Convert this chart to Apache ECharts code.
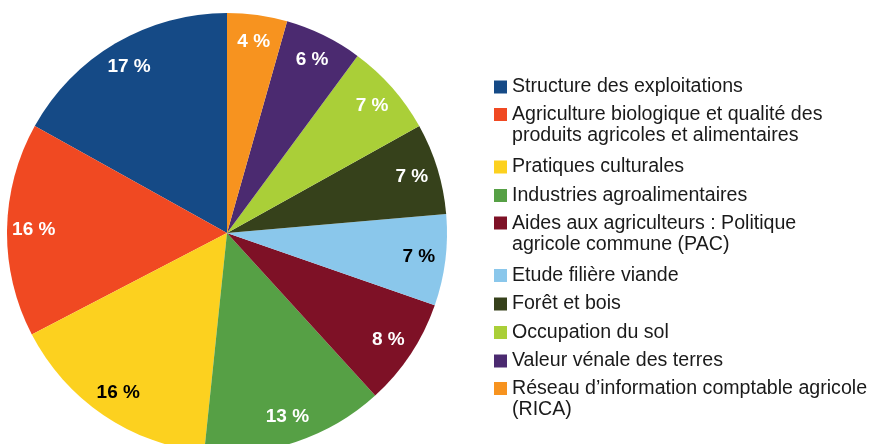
<!DOCTYPE html>
<html>
<head>
<meta charset="utf-8">
<script src="https://cdn.jsdelivr.net/npm/echarts@6/dist/echarts.min.js"></script>
<style>
  html, body { margin: 0; padding: 0; background: #fff; }
  #chart { width: 871px; height: 444px; }
</style>
</head>
<body>
<div id="chart"></div>
<script>
// shares, in legend order (slices run anticlockwise from 12 o'clock)
const themes = [
  'Structure des exploitations',
  'Agriculture biologique et qualité des produits agricoles et alimentaires',
  'Pratiques culturales',
  'Industries agroalimentaires',
  'Aides aux agriculteurs : Politique agricole commune (PAC)',
  'Etude filière viande',
  'Forêt et bois',
  'Occupation du sol',
  'Valeur vénale des terres',
  'Réseau d’information comptable agricole (RICA)'
]
// how the legend wraps each name
const legendLines = [
  ['Structure des exploitations'],
  ['Agriculture biologique et qualité des', 'produits agricoles et alimentaires'],
  ['Pratiques culturales'],
  ['Industries agroalimentaires'],
  ['Aides aux agriculteurs : Politique', 'agricole commune (PAC)'],
  ['Etude filière viande'],
  ['Forêt et bois'],
  ['Occupation du sol'],
  ['Valeur vénale des terres'],
  ['Réseau d’information comptable agricole', '(RICA)']
]
const shares = [16.9, 15.7, 15.7, 13.4, 7.9, 6.7, 6.7, 6.8, 5.7, 4.4]

const colors = ['#154a86', '#f04922', '#fcd11f', '#56a045', '#7e1126', '#8ac7eb', '#36411b', '#aacf38', '#4b2a70', '#f7931f']
const labelColors = ['#fff', '#fff', '#000', '#fff', '#fff', '#000', '#fff', '#fff', '#fff', '#fff']

const center = [227, 233]
const R = 220

const pieData = themes.map((name, i) => ({ name, value: shares[i] }))

// legend rows: first line of a wrapped name sits level with its square
const legendX = 494
const firstRowY = 86      // centre of the first square
const rowStep = 28.5
const wrapStep = 23
const txt = { fontFamily: 'Liberation Sans', fontSize: 19.6, color: '#1a1a1a' }

const legendText = (name) => {
  const lines = legendLines[themes.indexOf(name)]
  if (lines.length === 1) return lines[0]
  return '{first|' + lines[0] + '}\n' + lines.slice(1).map(l => '{next|' + l + '}').join('\n')
}

let rowY = firstRowY
const legends = themes.map((name, i) => {
  const n = legendLines[i].length
  const lg = {
    orient: 'vertical',
    left: legendX,
    top: rowY - (n === 1 ? 10 : 32.5),
    padding: 0,
    itemWidth: 13,
    itemHeight: 13,
    icon: 'rect',
    textStyle: {
      ...txt,
      lineHeight: 22,
      rich: {
        first: { ...txt, lineHeight: 43, verticalAlign: 'bottom' },
        next: { ...txt, lineHeight: 22 }
      }
    },
    data: [name],
    formatter: legendText
  }
  rowY += rowStep + wrapStep * (n - 1)
  return lg
})

const option = {
  animation: false,
  color: colors,
  legend: legends,
  series: [
    {
      type: 'pie',
      center,
      radius: R,
      clockwise: false,
      startAngle: 90,
      label: { show: false },
      labelLine: { show: false },
      itemStyle: { borderWidth: 0 },
      emphasis: { disabled: true },
      data: pieData
    },
    {
      // transparent ring, only carries the labels near the rim
      type: 'pie',
      center,
      radius: [R * 0.73, R],
      clockwise: false,
      startAngle: 90,
      silent: true,
      itemStyle: { color: 'rgba(0,0,0,0)', borderWidth: 0 },
      emphasis: { disabled: true },
      label: {
        show: true,
        position: 'inside',
        fontFamily: 'Liberation Sans',
        fontWeight: 'bold',
        fontSize: 19,
        formatter: (p) => Math.round(p.percent) + ' %'
      },
      labelLine: { show: false },
      data: pieData.map((d, i) => ({ ...d, label: { color: labelColors[i] } }))
    }
  ]
}

const chart = echarts.init(document.getElementById('chart'), null, { renderer: 'canvas' })
chart.setOption(option)
</script>
</body>
</html>
